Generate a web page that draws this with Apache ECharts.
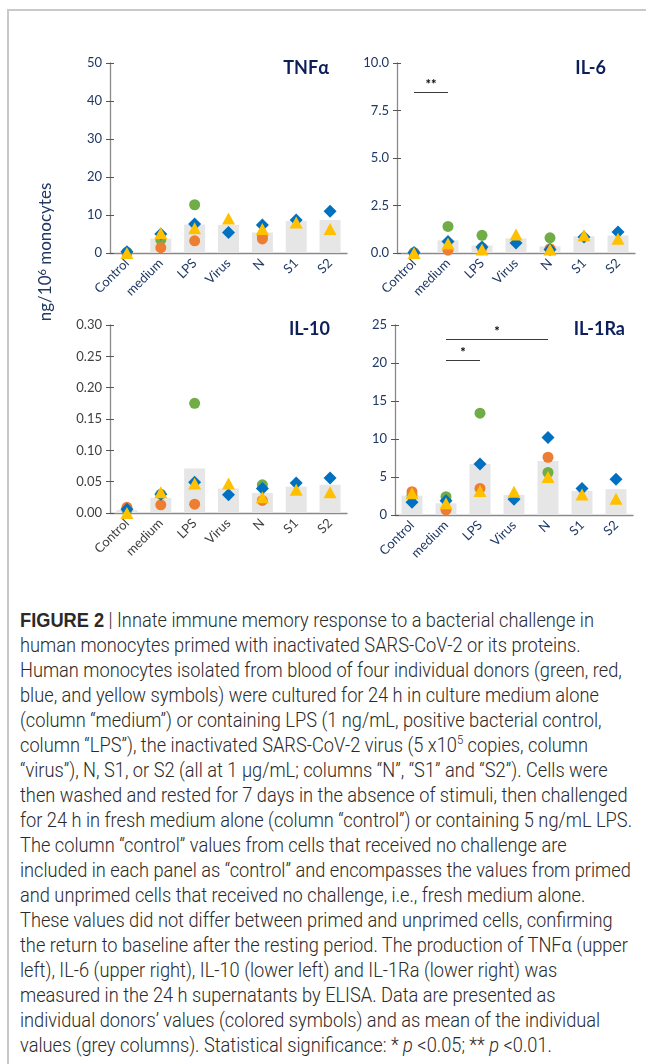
<!DOCTYPE html>
<html>
<head>
<meta charset="utf-8">
<script src="https://cdn.jsdelivr.net/npm/echarts@6/dist/echarts.min.js"></script>
<style>
  html, body { margin: 0; padding: 0; background: #fff; }
  #page { position: relative; width: 646px; height: 1064px; overflow: hidden; }
  #frame { position: absolute; left: 7px; top: 9px; width: 700px; height: 1100px;
           border-top: 2px solid #c9c9c9; border-left: 2px solid #c9c9c9; }
  #chart { position: absolute; left: 0; top: 0; width: 646px; height: 600px; }
  #caption { position: absolute; left: 20px; top: 608px; white-space: nowrap;
             font-family: Roboto, "Liberation Sans", sans-serif; font-weight: 300;
             font-size: 19.5px; line-height: 25px; color: #2a2a2a; transform-origin: 0 0; }
  #caption b { font-family: "Liberation Sans", Arial, sans-serif; font-weight: 700; }
  #caption sup { font-size: 12px; line-height: 0; vertical-align: 8px; }
</style>
</head>
<body>
<div id="page">
  <div id="frame"></div>
  <div id="chart"></div>
  <div id="caption">
    <div><b>FIGURE 2</b> | Innate immune memory response to a bacterial challenge in</div>
    <div>human monocytes primed with inactivated SARS-CoV-2 or its proteins.</div>
    <div>Human monocytes isolated from blood of four individual donors (green, red,</div>
    <div>blue, and yellow symbols) were cultured for 24 h in culture medium alone</div>
    <div>(column “medium”) or containing LPS (1 ng/mL, positive bacterial control,</div>
    <div>column “LPS”), the inactivated SARS-CoV-2 virus (5 x10<sup>5</sup> copies, column</div>
    <div>“virus”), N, S1, or S2 (all at 1 µg/mL; columns “N”, “S1” and “S2”). Cells were</div>
    <div id="refLine">then washed and rested for 7 days in the absence of stimuli, then challenged</div>
    <div>for 24 h in fresh medium alone (column “control”) or containing 5 ng/mL LPS.</div>
    <div>The column “control” values from cells that received no challenge are</div>
    <div>included in each panel as “control” and encompasses the values from primed</div>
    <div>and unprimed cells that received no challenge, i.e., fresh medium alone.</div>
    <div>These values did not differ between primed and unprimed cells, confirming</div>
    <div>the return to baseline after the resting period. The production of TNFα (upper</div>
    <div>left), IL-6 (upper right), IL-10 (lower left) and IL-1Ra (lower right) was</div>
    <div>measured in the 24 h supernatants by ELISA. Data are presented as</div>
    <div>individual donors’ values (colored symbols) and as mean of the individual</div>
    <div>values (grey columns). Statistical significance: * <i>p</i> &lt;0.05; ** <i>p</i> &lt;0.01.</div>
  </div>
</div>
<script>
// Priming conditions (x categories, shared by all four panels)
const categories = ['Control', 'medium', 'LPS', 'Virus', 'N', 'S1', 'S2'];

// TNFα, ng/10^6 monocytes
const tnfGreen  = [0.2, 3.5, 12.7, null, 4.3, null, null];
const tnfOrange = [0.0, 1.4, 3.2, null, 3.7, null, null];
const tnfBlue   = [0.3, 5.0, 7.6, 5.4, 7.4, 8.7, 11.0];
const tnfYellow = [0.0, 5.2, 6.5, 9.1, 6.3, 8.0, 6.3];
const tnfMean   = [0.1, 3.8, 7.5, 7.4, 5.4, 8.4, 8.7];

// IL-6
const il6Green  = [0.02, 1.40, 0.93, null, 0.80, null, null];
const il6Orange = [0.00, 0.15, 0.28, null, 0.23, null, null];
const il6Blue   = [0.03, 0.61, 0.32, 0.53, 0.18, 0.84, 1.10];
const il6Yellow = [0.00, 0.50, 0.18, 0.98, 0.18, 0.93, 0.75];
const il6Mean   = [0.01, 0.67, 0.40, 0.77, 0.35, 0.88, 0.92];

// IL-10
const il10Green  = [0.005, 0.030, 0.175, null, 0.045, null, null];
const il10Orange = [0.009, 0.013, 0.014, null, 0.020, null, null];
const il10Blue   = [0.006, 0.030, 0.049, 0.029, 0.039, 0.048, 0.056];
const il10Yellow = [0.000, 0.033, 0.047, 0.047, 0.025, 0.037, 0.033];
const il10Mean   = [0.005, 0.024, 0.071, 0.039, 0.032, 0.042, 0.045];

// IL-1Ra
const il1raGreen  = [2.6, 2.41, 13.4, null, 5.6, null, null];
const il1raOrange = [3.07, 0.66, 3.5, null, 7.6, null, null];
const il1raBlue   = [1.67, 1.89, 6.7, 2.06, 10.2, 3.5, 4.7];
const il1raYellow = [2.85, 1.54, 3.16, 3.07, 5.0, 2.7, 2.15];
const il1raMean   = [2.54, 1.54, 6.7, 2.63, 7.1, 3.16, 3.4];

// Significance brackets: [from category, to category, height, stars]
const il6Sig   = [['Control', 'medium', 8.44, '**']];
const il1raSig = [['medium', 'N', 23.1, '*'], ['medium', 'LPS', 20.3, '*']];

// Y-axis ranges
const tnfAxis   = { max: 50,   interval: 10,   digits: 0 };
const il6Axis   = { max: 10,   interval: 2.5,  digits: 1 };
const il10Axis  = { max: 0.30, interval: 0.05, digits: 2 };
const il1raAxis = { max: 25,   interval: 5,    digits: 0 };

const NAVY = '#1f3864';
const GREY_TEXT = '#3f3f3f';
const TITLE = '#0c1f5a';
const AXIS = '#8a8a8a';
const FONT = 'Lato, "Open Sans", sans-serif';

const donorStyles = [
  { key: 'green',  color: '#70ad47', symbol: 'circle',   size: 11 },
  { key: 'orange', color: '#ed7d31', symbol: 'circle',   size: 11 },
  { key: 'blue',   color: '#0070c0', symbol: 'diamond',  size: 13 },
  { key: 'yellow', color: '#ffc000', symbol: 'triangle', size: [13, 12] }
];

const panels = [
  { title: 'TNFα', axis: tnfAxis, mean: tnfMean, sig: [], labelColor: NAVY,
    donors: { green: tnfGreen, orange: tnfOrange, blue: tnfBlue, yellow: tnfYellow },
    grid: { left: 110, top: 63, width: 237, height: 190 }, titleRight: 317, titleTop: 59 },
  { title: 'IL-6', axis: il6Axis, mean: il6Mean, sig: il6Sig, labelColor: NAVY,
    donors: { green: il6Green, orange: il6Orange, blue: il6Blue, yellow: il6Yellow },
    grid: { left: 397, top: 63, width: 238, height: 190 }, titleRight: 40, titleTop: 59 },
  { title: 'IL-10', axis: il10Axis, mean: il10Mean, sig: [], labelColor: GREY_TEXT,
    donors: { green: il10Green, orange: il10Orange, blue: il10Blue, yellow: il10Yellow },
    grid: { left: 110, top: 325, width: 237, height: 188 }, titleRight: 316, titleTop: 320 },
  { title: 'IL-1Ra', axis: il1raAxis, mean: il1raMean, sig: il1raSig, labelColor: NAVY,
    donors: { green: il1raGreen, orange: il1raOrange, blue: il1raBlue, yellow: il1raYellow },
    grid: { left: 395, top: 325, width: 238, height: 190 }, titleRight: 21, titleTop: 320 }
];

const grids = [], xAxes = [], yAxes = [], series = [], titles = [];

panels.forEach((p, i) => {
  grids.push(Object.assign({ containLabel: false }, p.grid));
  titles.push({
    text: p.title, right: p.titleRight, top: p.titleTop, padding: 0,
    textStyle: { fontFamily: FONT, fontWeight: 'bold', fontSize: 18, color: TITLE }
  });
  xAxes.push({
    type: 'category', gridIndex: i, data: categories,
    axisLine: { lineStyle: { color: AXIS, width: 1.3 } },
    axisTick: { show: false },
    axisLabel: { rotate: 45, interval: 0, margin: 8, fontSize: 13,
                 fontFamily: FONT, color: p.labelColor }
  });
  const yBase = {
    type: 'value', gridIndex: i, position: 'left', offset: 0,
    min: 0, max: p.axis.max, interval: p.axis.interval,
    splitLine: { show: false }
  };
  // visible axis with outer ticks and labels
  yAxes.push(Object.assign({}, yBase, {
    axisLine: { show: true, lineStyle: { color: AXIS, width: 1.3 } },
    axisTick: { show: true, length: 4, lineStyle: { color: '#555', width: 1 } },
    axisLabel: { margin: 8, fontSize: 13, fontFamily: FONT, color: p.labelColor,
                 formatter: v => v.toFixed(p.axis.digits) }
  }));
  // overlay axis carrying the inner half of the cross ticks
  yAxes.push(Object.assign({}, yBase, {
    axisLine: { show: false },
    axisTick: { show: true, inside: true, length: 4, lineStyle: { color: '#555', width: 1 } },
    axisLabel: { show: false }
  }));
  const yIdx = i * 2;

  const bar = {
    type: 'bar', xAxisIndex: i, yAxisIndex: yIdx, data: p.mean,
    barWidth: 21, itemStyle: { color: '#e7e6e6' }, silent: true, z: 1
  };
  if (p.sig.length) {
    bar.markLine = {
      silent: true, symbol: ['none', 'none'], animation: false,
      lineStyle: { color: '#3a3a3a', width: 1, type: 'solid' },
      label: { show: true, position: 'middle', formatter: '{b}', distance: 1,
               color: '#000', fontSize: 13, fontWeight: 'bold', fontFamily: FONT },
      emphasis: { disabled: true },
      data: p.sig.map(s => [
        { name: s[3], coord: [s[0], s[2]] },
        { coord: [s[1], s[2]] }
      ])
    };
  }
  series.push(bar);

  donorStyles.forEach((d, k) => {
    series.push({
      type: 'scatter', xAxisIndex: i, yAxisIndex: yIdx, data: p.donors[d.key],
      symbol: d.symbol, symbolSize: d.size, z: 3 + k,
      itemStyle: { color: d.color, opacity: 1 }, silent: true
    });
  });
});

const chart = echarts.init(document.getElementById('chart'), null, { renderer: 'canvas' });
chart.setOption({
  animation: false,
  backgroundColor: 'transparent',
  title: titles,
  grid: grids,
  xAxis: xAxes,
  yAxis: yAxes,
  series: series,
  graphic: [{
    type: 'text', x: 46, y: 252, rotation: Math.PI / 2,
    style: {
      text: 'ng/10{sup|6} monocytes', fill: NAVY, fontSize: 17, fontFamily: FONT,
      align: 'center', verticalAlign: 'middle',
      rich: { sup: { fontSize: 11, verticalAlign: 'top', padding: [0, 0, 7, 0], fill: NAVY, fontFamily: FONT } }
    }
  }]
});

// condense the caption so its full lines span the text column
(function fitCaption() {
  const cap = document.getElementById('caption');
  const ref = document.getElementById('refLine');
  const w = ref.getBoundingClientRect().width;
  if (w > 0) cap.style.transform = 'scaleX(' + (612 / w) + ')';
})();
</script>
</body>
</html>
